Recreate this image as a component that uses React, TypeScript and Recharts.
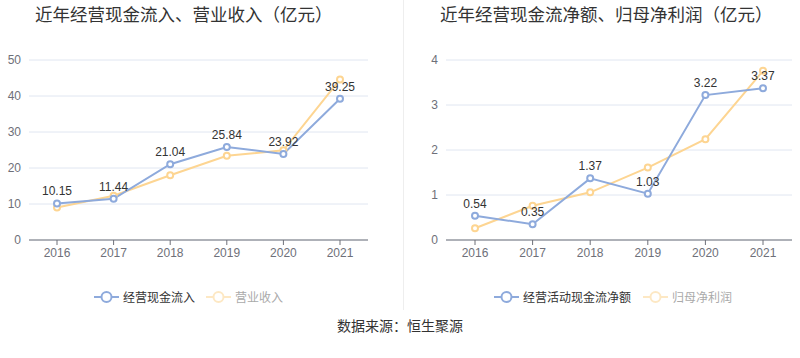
import React from "react";
import { LineChart, Line, XAxis, YAxis, CartesianGrid, LabelList } from "recharts";

const years = ["2016", "2017", "2018", "2019", "2020", "2021"];
const cashInflow = [10.15, 11.44, 21.04, 25.84, 23.92, 39.25];
const revenue = [9.0, 12.3, 18.0, 23.4, 24.9, 44.6];
const netCashFlow = [0.54, 0.35, 1.37, 1.03, 3.22, 3.37];
const netProfit = [0.26, 0.76, 1.06, 1.61, 2.24, 3.76];
const leftTicks = [0, 10, 20, 30, 40, 50];
const rightTicks = [0, 1, 2, 3, 4];

const leftData = years.map((y, i) => ({ year: y, a: cashInflow[i], b: revenue[i] }));
const rightData = years.map((y, i) => ({ year: y, a: netCashFlow[i], b: netProfit[i] }));

const BLUE = "#8eaadc";
const YELLOW = "#fdd592";
const FONT = "'Liberation Sans', Arial, 'Noto Sans CJK SC', sans-serif";
const CJK = "'Noto Sans CJK SC', sans-serif";

const LegendIcon = ({ color }: { color: string }) => (
  <svg width={25} height={14} style={{ display: "block" }}>
    <line x1={0} y1={7} x2={25} y2={7} stroke={color} strokeWidth={2} />
    <circle cx={12.5} cy={7} r={5} fill="#fff" stroke={color} strokeWidth={2} />
  </svg>
);

const LegendItem = ({ left, color, text, textColor }: any) => (
  <div style={{ position: "absolute", left, top: 290, display: "flex", alignItems: "center", height: 14 }}>
    <LegendIcon color={color} />
    <span style={{ marginLeft: 4, fontSize: 12, color: textColor, fontFamily: CJK, lineHeight: "14px", whiteSpace: "nowrap" }}>{text}</span>
  </div>
);

const Chart = ({ data, ticks, domain, yWidth, right, pad }: any) => (
  <LineChart width={400} height={358} data={data} margin={{ top: 60, right: right, bottom: 88, left: 0 }}>
    <CartesianGrid vertical={false} stroke="#e0e6f1" />
    <XAxis
      dataKey="year"
      stroke="#6e7079"
      tick={{ fill: "#6e7079", fontSize: 12, fontFamily: FONT }}
      tickSize={5}
      tickMargin={3}
      interval={0}
      padding={{ left: pad, right: pad }}
      height={30}
    />
    <YAxis
      width={yWidth}
      domain={domain}
      ticks={ticks}
      axisLine={false}
      tickLine={false}
      tick={{ fill: "#6e7079", fontSize: 12, fontFamily: FONT }}
      tickMargin={2}
    />
    <Line
      type="linear"
      dataKey="b"
      stroke={YELLOW}
      strokeWidth={2}
      dot={{ r: 3, fill: "#fff", stroke: YELLOW, strokeWidth: 2 }}
      isAnimationActive={false}
    />
    <Line
      type="linear"
      dataKey="a"
      stroke={BLUE}
      strokeWidth={2}
      dot={{ r: 3, fill: "#fff", stroke: BLUE, strokeWidth: 2 }}
      isAnimationActive={false}
    >
      <LabelList dataKey="a" position="top" offset={8} style={{ fill: "#333", fontSize: 12, fontFamily: FONT }} />
    </Line>
  </LineChart>
);

export default function App() {
  return (
    <div style={{ position: "fixed", left: 0, top: 0, width: 800, height: 358, background: "#fff", overflow: "hidden" }}>
      <div style={{ position: "absolute", left: 0, top: 0 }}>
        <Chart data={leftData} ticks={leftTicks} domain={[0, 50]} yWidth={29} right={32} pad={28} />
      </div>
      <div style={{ position: "absolute", left: 400, top: 0 }}>
        <Chart data={rightData} ticks={rightTicks} domain={[0, 4]} yWidth={46} right={8} pad={29} />
      </div>
      <div style={{ position: "absolute", left: 403, top: 0, width: 1, height: 310, background: "#eeeeee" }} />
      <div style={{ position: "absolute", left: 35, top: 3, fontSize: 17.5, color: "#333", fontFamily: CJK, lineHeight: "22px", whiteSpace: "nowrap" }}>
        近年经营现金流入、营业收入（亿元）
      </div>
      <div style={{ position: "absolute", left: 440, top: 3, fontSize: 17.5, color: "#333", fontFamily: CJK, lineHeight: "22px", whiteSpace: "nowrap" }}>
        近年经营现金流净额、归母净利润（亿元）
      </div>
      <LegendItem left={94} color={BLUE} text="经营现金流入" textColor="#333" />
      <LegendItem left={206} color="#fde8c4" text="营业收入" textColor="#aaa" />
      <LegendItem left={494} color={BLUE} text="经营活动现金流净额" textColor="#333" />
      <LegendItem left={643} color="#fde8c4" text="归母净利润" textColor="#aaa" />
      <div style={{ position: "absolute", left: 0, width: 800, top: 316, textAlign: "center", fontSize: 14, color: "#333", fontFamily: CJK, lineHeight: "18px" }}>
        数据来源：恒生聚源
      </div>
    </div>
  );
}
